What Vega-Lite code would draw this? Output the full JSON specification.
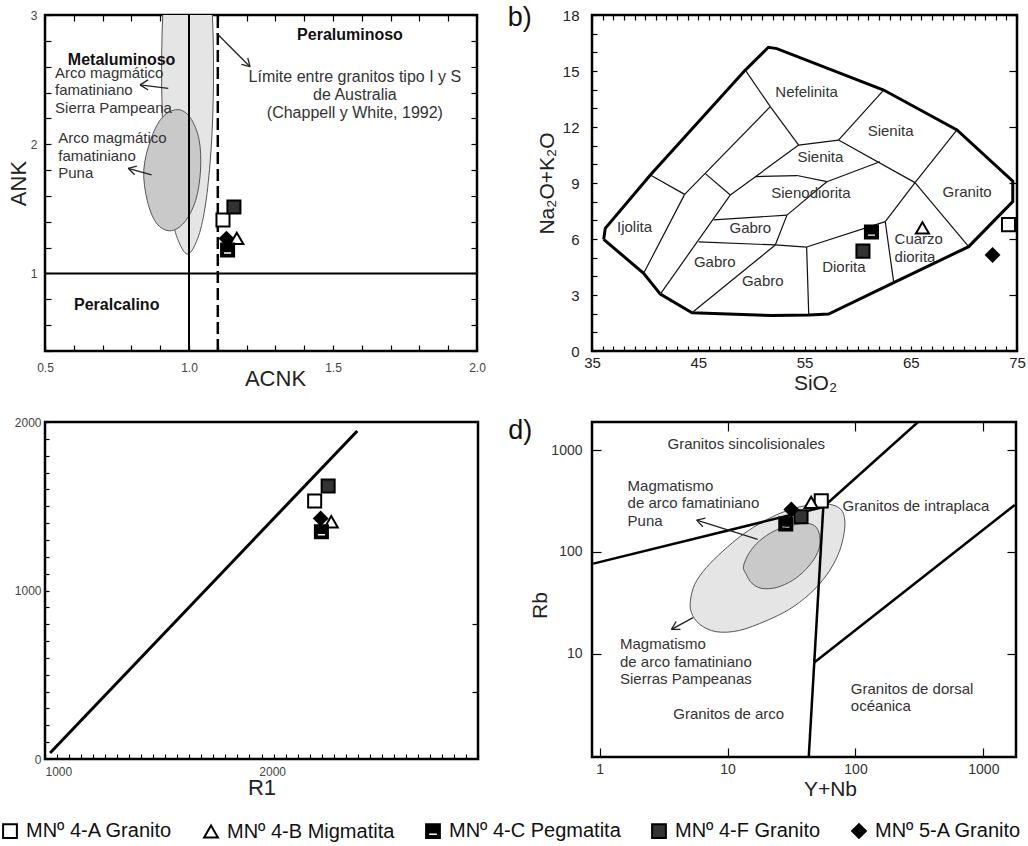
{
"$schema": "https://vega.github.io/schema/vega-lite/v6.json",
"padding": {"left": 0, "top": 2, "right": 5, "bottom": 5},
"datasets": {
"ellA1": [{"i":1,"x":0.995,"y":1.15},{"i":2,"x":1.030,"y":1.27},{"i":3,"x":1.055,"y":1.50},{"i":4,"x":1.073,"y":1.85},{"i":5,"x":1.083,"y":2.25},{"i":6,"x":1.085,"y":2.65},{"i":7,"x":1.080,"y":3.05},{"i":8,"x":1.066,"y":3.40},{"i":9,"x":0.995,"y":3.95},{"i":10,"x":0.924,"y":3.40},{"i":11,"x":0.910,"y":3.05},{"i":12,"x":0.905,"y":2.65},{"i":13,"x":0.907,"y":2.25},{"i":14,"x":0.917,"y":1.85},{"i":15,"x":0.935,"y":1.50},{"i":16,"x":0.960,"y":1.27}],
"ellA2": [{"i":1,"x":0.933,"y":1.33},{"i":2,"x":0.983,"y":1.393},{"i":3,"x":1.023,"y":1.565},{"i":4,"x":1.040,"y":1.80},{"i":5,"x":1.035,"y":2.035},{"i":6,"x":1.004,"y":2.207},{"i":7,"x":0.960,"y":2.268},{"i":8,"x":0.907,"y":2.207},{"i":9,"x":0.867,"y":2.035},{"i":10,"x":0.843,"y":1.80},{"i":11,"x":0.855,"y":1.565},{"i":12,"x":0.886,"y":1.393}],
"segA": [{"x":1.0,"y":0.4,"x2":1.0,"y2":3.0},{"x":0.5,"y":1.0,"x2":2.0,"y2":1.0}],
"dashA": [{"x":1.1,"y":0.4,"x2":1.1,"y2":3.0}],
"arrA": [
{"x":0.928,"y":2.433,"x2":0.830,"y2":2.459},{"x":0.830,"y":2.459,"x2":0.858,"y2":2.498},{"x":0.830,"y":2.459,"x2":0.858,"y2":2.420},
{"x":0.870,"y":1.762,"x2":0.789,"y2":1.814},{"x":0.789,"y":1.814,"x2":0.811,"y2":1.764},{"x":0.789,"y":1.814,"x2":0.819,"y2":1.831},
{"x":1.096,"y":2.859,"x2":1.212,"y2":2.600},{"x":1.212,"y":2.600,"x2":1.204,"y2":2.667},{"x":1.212,"y":2.600,"x2":1.182,"y2":2.618}],
"txtAl": [{"t":"Arco magmático","x":0.535,"y":2.554},{"t":"famatiniano","x":0.535,"y":2.419},{"t":"Sierra Pampeana","x":0.535,"y":2.278},{"t":"Arco magmático","x":0.546,"y":2.051},{"t":"famatiniano","x":0.546,"y":1.912},{"t":"Puna","x":0.546,"y":1.775}],
"txtAc": [{"t":"Límite entre granitos tipo I y S","x":1.576,"y":2.523},{"t":"de Australia","x":1.576,"y":2.381},{"t":"(Chappell y White, 1992)","x":1.576,"y":2.24}],
"txtAb": [{"t":"Metaluminoso","x":0.766,"y":2.652},{"t":"Peraluminoso","x":1.559,"y":2.846},{"t":"Peralcalino","x":0.749,"y":0.756}],
"ptsA": [{"s":"MNº 4-A Granito","x":1.118,"y":1.414},{"s":"MNº 4-F Granito","x":1.156,"y":1.514},{"s":"MNº 4-B Migmatita","x":1.166,"y":1.272},{"s":"MNº 5-A Granito","x":1.13,"y":1.27},{"s":"MNº 4-C Pegmatita","x":1.134,"y":1.182}],
"outB": [{"i":1,"x":36.1,"y":5.98},{"i":2,"x":36.25,"y":6.57},{"i":3,"x":40.49,"y":9.43},{"i":4,"x":49.43,"y":15.05},{"i":5,"x":51.6,"y":16.27},{"i":6,"x":52.4,"y":16.2},{"i":7,"x":62.45,"y":13.98},{"i":8,"x":69.35,"y":11.84},{"i":9,"x":74.6,"y":9.1},{"i":10,"x":74.6,"y":8.0},{"i":11,"x":70.45,"y":5.59},{"i":12,"x":63.4,"y":3.66},{"i":13,"x":57.27,"y":1.98},{"i":14,"x":55.4,"y":1.93},{"i":15,"x":52.0,"y":1.9},{"i":16,"x":44.41,"y":2.05},{"i":17,"x":41.43,"y":3.05},{"i":18,"x":39.86,"y":4.16},{"i":19,"x":36.1,"y":5.98}],
"segB": [
{"x":40.49,"y":9.43,"x2":43.72,"y2":8.39},{"x":43.72,"y":8.39,"x2":39.86,"y2":4.16},{"x":43.72,"y":8.39,"x2":51.78,"y2":13.09},{"x":49.43,"y":15.05,"x2":51.78,"y2":13.09},{"x":51.78,"y":13.09,"x2":54.45,"y2":11.03},
{"x":45.67,"y":9.5,"x2":48.02,"y2":8.36},{"x":48.02,"y":8.36,"x2":41.43,"y2":3.05},{"x":48.02,"y":8.36,"x2":54.45,"y2":11.03},{"x":54.45,"y":11.03,"x2":58.2,"y2":11.3},{"x":58.2,"y":11.3,"x2":62.45,"y2":13.98},
{"x":58.2,"y":11.3,"x2":65.4,"y2":9.02},{"x":65.4,"y":9.02,"x2":69.35,"y2":11.84},{"x":65.4,"y":9.02,"x2":70.45,"y2":5.59},{"x":65.4,"y":9.02,"x2":62.6,"y2":6.93},{"x":62.6,"y":6.93,"x2":63.4,"y2":3.66},
{"x":62.6,"y":6.93,"x2":55.2,"y2":5.57},{"x":55.2,"y":5.57,"x2":55.4,"y2":1.93},{"x":45.04,"y":5.85,"x2":52.25,"y2":5.68},{"x":52.25,"y":5.68,"x2":55.2,"y2":5.57},{"x":46.45,"y":7.02,"x2":53.35,"y2":7.28},
{"x":53.35,"y":7.28,"x2":52.25,"y2":5.68},{"x":52.25,"y":5.68,"x2":44.41,"y2":2.05},{"x":53.35,"y":7.28,"x2":57.1,"y2":9.07},{"x":50.37,"y":9.34,"x2":54.3,"y2":9.4},{"x":54.3,"y":9.4,"x2":57.1,"y2":9.07},{"x":57.1,"y":9.07,"x2":62.1,"y2":10.14}],
"txtB": [{"t":"Nefelinita","x":55.2,"y":13.89},{"t":"Sienita","x":63.1,"y":11.8},{"t":"Sienita","x":56.5,"y":10.41},{"t":"Sienodiorita","x":55.6,"y":8.45},{"t":"Granito","x":70.3,"y":8.5},{"t":"Ijolita","x":39.0,"y":6.62},{"t":"Gabro","x":49.9,"y":6.57},{"t":"Gabro","x":46.55,"y":4.75},{"t":"Gabro","x":51.07,"y":3.77},{"t":"Diorita","x":58.7,"y":4.48},{"t":"Cuarzo","x":65.75,"y":5.98},{"t":"diorita","x":65.4,"y":5.05}],
"labB": [{"t":"b)","x":28.2,"y":17.84}],
"ptsB": [{"s":"MNº 4-A Granito","x":74.2,"y":6.77},{"s":"MNº 4-B Migmatita","x":66.1,"y":6.6},{"s":"MNº 4-F Granito","x":60.5,"y":5.35},{"s":"MNº 4-C Pegmatita","x":61.3,"y":6.37},{"s":"MNº 5-A Granito","x":72.7,"y":5.14}],
"segC": [{"x":1021,"y":36,"x2":2298,"y2":1947}],
"ptsC": [{"s":"MNº 4-A Granito","x":2121,"y":1531},{"s":"MNº 4-F Granito","x":2177,"y":1620},{"s":"MNº 4-B Migmatita","x":2190,"y":1408},{"s":"MNº 5-A Granito","x":2146,"y":1428},{"s":"MNº 4-C Pegmatita","x":2149,"y":1349}],
"ellD1": [{"i":1,"x":5.12,"y":33.0},{"i":2,"x":5.53,"y":48.0},{"i":3,"x":6.82,"y":70.2},{"i":4,"x":9.19,"y":102},{"i":5,"x":13.2,"y":149},{"i":6,"x":19.4,"y":202},{"i":7,"x":28.6,"y":253},{"i":8,"x":43.5,"y":290},{"i":9,"x":62.4,"y":294},{"i":10,"x":76.9,"y":262},{"i":11,"x":82.6,"y":202},{"i":12,"x":80.2,"y":138},{"i":13,"x":72.4,"y":91.4},{"i":14,"x":58.8,"y":58.1},{"i":15,"x":43.5,"y":38.3},{"i":16,"x":30.4,"y":27.3},{"i":17,"x":20.0,"y":21.0},{"i":18,"x":12.4,"y":16.9},{"i":19,"x":8.17,"y":16.4},{"i":20,"x":6.05,"y":19.4},{"i":21,"x":5.21,"y":25.3}],
"ellD2": [{"i":1,"x":13.3,"y":72},{"i":2,"x":14.8,"y":98.4},{"i":3,"x":17.7,"y":128},{"i":4,"x":23.2,"y":161},{"i":5,"x":32.3,"y":184},{"i":6,"x":43.5,"y":190},{"i":7,"x":50.6,"y":167},{"i":8,"x":52.8,"y":123},{"i":9,"x":49.1,"y":91.4},{"i":10,"x":41.0,"y":67.5},{"i":11,"x":32.3,"y":52.6},{"i":12,"x":24.0,"y":44.6},{"i":13,"x":18.3,"y":43.9},{"i":14,"x":15.3,"y":49.9},{"i":15,"x":14.0,"y":60.3}],
"segD": [{"x":0.89,"y":76.7,"x2":56,"y2":277},{"x":56,"y":277,"x2":310,"y2":1910},{"x":56,"y":277,"x2":47.6,"y2":8.15},{"x":47.6,"y":8.15,"x2":43.1,"y2":0.96},{"x":47.6,"y":8.15,"x2":1760,"y2":290}],
"arrD": [{"x":17.2,"y":133,"x2":5.73,"y2":205.6},{"x":5.73,"y":205.6,"x2":6.40,"y2":177},{"x":5.73,"y":205.6,"x2":6.71,"y2":215},{"x":5.37,"y":22.6,"x2":3.64,"y2":17.3},{"x":3.64,"y":17.3,"x2":4.28,"y2":17.3},{"x":3.64,"y":17.3,"x2":3.96,"y2":20.7}],
"txtDc": [{"t":"Granitos sincolisionales","x":14.0,"y":1143},{"t":"Granitos de arco","x":10.2,"y":2.57}],
"txtDl": [{"t":"Magmatismo","x":1.65,"y":446},{"t":"de arco famatiniano","x":1.65,"y":301},{"t":"Puna","x":1.65,"y":202},{"t":"Granitos de intraplaca","x":79.3,"y":283},{"t":"Magmatismo","x":1.44,"y":12.4},{"t":"de arco famatiniano","x":1.44,"y":8.34},{"t":"Sierras Pampeanas","x":1.44,"y":5.58},{"t":"Granitos de dorsal","x":92,"y":4.53},{"t":"océanica","x":92,"y":3.06}],
"labD": [{"t":"d)","x":0.239,"y":1560}],
"ptsD": [{"s":"MNº 4-A Granito","x":54,"y":318},{"s":"MNº 4-B Migmatita","x":45,"y":308},{"s":"MNº 4-F Granito","x":37.5,"y":222},{"s":"MNº 5-A Granito","x":31.5,"y":262},{"s":"MNº 4-C Pegmatita","x":28.5,"y":188}]
},
"concat": [
{
"width": 432, "height": 336,
"layer": [
{
"encoding": {
"x": {"field":"x","type":"quantitative","scale":{"domain":[0.5,2.0],"nice":false,"zero":false},
"axis":{"title":"ACNK","values":[0.5,0.6,0.7,0.8,0.9,1.0,1.1,1.2,1.3,1.4,1.5,1.6,1.7,1.8,1.9,2.0],"labelExpr":"abs(datum.value*2-round(datum.value*2))<0.001 ? format(datum.value,'.1f') : ''","tickSize":-6,"labelPadding":17,"labelFontSize":12,"labelColor":"#444","titleFontSize":22,"titlePadding":-5,"titleX":230}},
"y": {"field":"y","type":"quantitative","scale":{"domain":[0.4,3.0],"nice":false,"zero":false},
"axis":{"title":"ANK","values":[0.4,0.6,0.8,1.0,1.2,1.4,1.6,1.8,2.0,2.2,2.4,2.6,2.8,3.0],"labelExpr":"abs(datum.value-round(datum.value))<0.001 ? format(datum.value,'d') : ''","tickSize":-6,"labelPadding":14,"labelFontSize":12,"labelColor":"#444","titleFontSize":22,"titlePadding":0}}
},
"layer": [
{"data":{"name":"ellA1"},"mark":{"type":"line","interpolate":"cardinal-closed","fill":"#e5e5e5","stroke":"#555","strokeWidth":1,"clip":true},"encoding":{"order":{"field":"i","type":"quantitative"}}},
{"data":{"name":"ellA2"},"mark":{"type":"line","interpolate":"cardinal-closed","fill":"#c9c9c9","stroke":"#555","strokeWidth":1},"encoding":{"order":{"field":"i","type":"quantitative"}}},
{"data":{"name":"segA"},"mark":{"type":"rule","color":"black","strokeWidth":2},"encoding":{"x2":{"field":"x2"},"y2":{"field":"y2"}}},
{"data":{"name":"dashA"},"mark":{"type":"rule","color":"black","strokeWidth":2.5,"strokeDash":[12,5]},"encoding":{"x2":{"field":"x2"},"y2":{"field":"y2"}}},
{"data":{"name":"arrA"},"mark":{"type":"rule","color":"#222","strokeWidth":1.3},"encoding":{"x2":{"field":"x2"},"y2":{"field":"y2"}}},
{"data":{"name":"txtAl"},"mark":{"type":"text","align":"left","fontSize":15,"color":"#333"},"encoding":{"text":{"field":"t","type":"nominal"}}},
{"data":{"name":"txtAc"},"mark":{"type":"text","align":"center","fontSize":16,"color":"#333"},"encoding":{"text":{"field":"t","type":"nominal"}}},
{"data":{"name":"txtAb"},"mark":{"type":"text","align":"center","fontSize":16,"fontWeight":"bold","color":"#111"},"encoding":{"text":{"field":"t","type":"nominal"}}}
]
},
{
"data":{"name":"ptsA"},
"mark":{"type":"point","filled":true,"stroke":"black","strokeWidth":2,"size":170,"opacity":1},
"encoding":{
"x":{"field":"x","type":"quantitative","axis":{"orient":"top","values":[0.5,0.6,0.7,0.8,0.9,1.0,1.1,1.2,1.3,1.4,1.5,1.6,1.7,1.8,1.9,2.0],"labels":false,"title":null,"tickSize":-6}},
"y":{"field":"y","type":"quantitative","axis":{"orient":"right","values":[0.4,0.6,0.8,1.0,1.2,1.4,1.6,1.8,2.0,2.2,2.4,2.6,2.8,3.0],"labels":false,"title":null,"tickSize":-6}},
"shape":{"field":"s","type":"nominal","scale":{"domain":["MNº 4-A Granito","MNº 4-B Migmatita","MNº 4-C Pegmatita","MNº 4-F Granito","MNº 5-A Granito"],"range":["square","triangle-up","M-1,-1H1V1H-1Z M-0.7,0.2V0.72H0.7V0.2Z","square","diamond"]},
"legend":{"orient":"none","legendX":-45,"legendY":806,"direction":"horizontal","columns":5,"title":null,"labelFontSize":20,"labelColor":"#111","symbolSize":190,"symbolStrokeColor":"black","symbolStrokeWidth":2,"symbolOpacity":1,"columnPadding":27,"labelOffset":6,"labelLimit":400,"encode":{"symbols":{"update":{"stroke":{"value":"black"},"strokeWidth":{"value":2}}}}}},
"fill":{"field":"s","type":"nominal","scale":{"domain":["MNº 4-A Granito","MNº 4-B Migmatita","MNº 4-C Pegmatita","MNº 4-F Granito","MNº 5-A Granito"],"range":["white","white","black","#333333","black"]},
"legend":{"orient":"none","legendX":-45,"legendY":806,"direction":"horizontal","columns":5,"title":null,"labelFontSize":20,"labelColor":"#111","symbolSize":190,"symbolStrokeColor":"black","symbolStrokeWidth":2,"symbolOpacity":1,"columnPadding":27,"labelOffset":6,"labelLimit":400,"encode":{"symbols":{"update":{"stroke":{"value":"black"},"strokeWidth":{"value":2}}}}}}
}
}
],
"resolve": {"axis": {"x":"independent","y":"independent"}}
},
{
"width": 425, "height": 336,
"layer": [
{
"encoding": {
"x": {"field":"x","type":"quantitative","scale":{"domain":[35,75],"nice":false,"zero":false},
"axis":{"title":"SiO₂","values":[35,36,37,38,39,40,41,42,43,44,45,46,47,48,49,50,51,52,53,54,55,56,57,58,59,60,61,62,63,64,65,66,67,68,69,70,71,72,73,74,75],"labelExpr":"datum.value % 10 == 5 ? datum.label : ''","tickSize":-5,"labelPadding":9,"labelFontSize":15,"labelColor":"#222","titleFontSize":21,"titlePadding":2,"titleX":223}},
"y": {"field":"y","type":"quantitative","scale":{"domain":[0,18],"nice":false,"zero":false},
"axis":{"title":"Na₂O+K₂O","values":[0,1,2,3,4,5,6,7,8,9,10,11,12,13,14,15,16,17,18],"labelExpr":"datum.value % 3 == 0 ? datum.label : ''","tickSize":-5,"labelPadding":18,"labelFontSize":15,"labelColor":"#222","titleFontSize":21,"titlePadding":5}}
},
"layer": [
{"data":{"name":"outB"},"mark":{"type":"line","color":"black","strokeWidth":3},"encoding":{"order":{"field":"i","type":"quantitative"}}},
{"data":{"name":"segB"},"mark":{"type":"rule","color":"#111","strokeWidth":1.2},"encoding":{"x2":{"field":"x2"},"y2":{"field":"y2"}}},
{"data":{"name":"txtB"},"mark":{"type":"text","align":"center","fontSize":15,"color":"#333"},"encoding":{"text":{"field":"t","type":"nominal"}}},
{"data":{"name":"labB"},"mark":{"type":"text","align":"center","fontSize":27,"color":"#111"},"encoding":{"text":{"field":"t","type":"nominal"}}}
]
},
{
"data":{"name":"ptsB"},
"mark":{"type":"point","filled":true,"stroke":"black","strokeWidth":2,"size":170,"opacity":1},
"encoding":{
"x":{"field":"x","type":"quantitative","axis":{"orient":"top","values":[35,36,37,38,39,40,41,42,43,44,45,46,47,48,49,50,51,52,53,54,55,56,57,58,59,60,61,62,63,64,65,66,67,68,69,70,71,72,73,74,75],"labels":false,"title":null,"tickSize":-5}},
"y":{"field":"y","type":"quantitative","axis":{"orient":"right","values":[0,3,6,9,12,15,18],"labels":false,"title":null,"tickSize":-8}},
"shape":{"field":"s","type":"nominal"},
"fill":{"field":"s","type":"nominal"}
}
}
],
"resolve": {"axis": {"x":"independent","y":"independent"}}
},
{
"width": 433, "height": 337,
"layer": [
{
"encoding": {
"x": {"field":"x","type":"quantitative","scale":{"domain":[1000,2800],"nice":false,"zero":false},
"axis":{"title":"R1","values":[1000,1050,1100,1150,1200,1250,1300,1350,1400,1450,1500,1550,1600,1650,1700,1750,1800,1850,1900,1950,2000,2050,2100,2150,2200,2250,2300,2350,2400,2450,2500,2550,2600,2650,2700,2750,2800],"labelExpr":"datum.value == 1000 || datum.value == 2000 ? format(datum.value,'d') : ''","labelAlign":{"condition":{"test":"datum.value == 1000","value":"left"},"value":"right"},"tickSize":-5,"labelPadding":12,"labelFontSize":12,"labelColor":"#444","titleFontSize":22,"titlePadding":0}},
"y": {"field":"y","type":"quantitative","scale":{"domain":[0,2000],"nice":false,"zero":false},
"axis":{"title":null,"values":[0,100,200,300,400,500,600,700,800,900,1000,1100,1200,1300,1400,1500,1600,1700,1800,1900,2000],"labelExpr":"datum.value % 1000 == 0 ? format(datum.value,'d') : ''","tickSize":-4,"labelPadding":8,"labelFontSize":12,"labelColor":"#444"}}
},
"layer": [
{"data":{"name":"segC"},"mark":{"type":"rule","color":"black","strokeWidth":3},"encoding":{"x2":{"field":"x2"},"y2":{"field":"y2"}}}
]
},
{
"data":{"name":"ptsC"},
"mark":{"type":"point","filled":true,"stroke":"black","strokeWidth":2,"size":170,"opacity":1},
"encoding":{
"x":{"field":"x","type":"quantitative","axis":null},
"y":{"field":"y","type":"quantitative","axis":{"orient":"right","values":[400,800],"labels":false,"title":null,"tickSize":-6}},
"shape":{"field":"s","type":"nominal"},
"fill":{"field":"s","type":"nominal"}
}
}
],
"resolve": {"axis": {"x":"independent","y":"independent"}}
},
{
"width": 424, "height": 335,
"layer": [
{
"encoding": {
"x": {"field":"x","type":"quantitative","scale":{"type":"log","domain":[0.87,1800],"nice":false},
"axis":{"title":"Y+Nb","values":[1,10,100,1000],"format":"d","tickSize":-9,"labelPadding":14,"labelFontSize":14,"labelColor":"#333","titleFontSize":21,"titlePadding":2,"titleX":238}},
"y": {"field":"y","type":"quantitative","scale":{"type":"log","domain":[0.96,1900],"nice":false},
"axis":{"title":"Rb","values":[10,100,1000],"format":"d","tickSize":-9,"labelPadding":19,"labelFontSize":14,"labelColor":"#333","titleFontSize":21,"titlePadding":0,"titleY":183}}
},
"layer": [
{"data":{"name":"ellD1"},"mark":{"type":"line","interpolate":"cardinal-closed","fill":"#e5e5e5","stroke":"#555","strokeWidth":1},"encoding":{"order":{"field":"i","type":"quantitative"}}},
{"data":{"name":"ellD2"},"mark":{"type":"line","interpolate":"cardinal-closed","fill":"#c9c9c9","stroke":"#555","strokeWidth":1},"encoding":{"order":{"field":"i","type":"quantitative"}}},
{"data":{"name":"segD"},"mark":{"type":"rule","color":"black","strokeWidth":2.5,"clip":true},"encoding":{"x2":{"field":"x2"},"y2":{"field":"y2"}}},
{"data":{"name":"arrD"},"mark":{"type":"rule","color":"#222","strokeWidth":1.3},"encoding":{"x2":{"field":"x2"},"y2":{"field":"y2"}}},
{"data":{"name":"txtDc"},"mark":{"type":"text","align":"center","fontSize":15,"color":"#333"},"encoding":{"text":{"field":"t","type":"nominal"}}},
{"data":{"name":"txtDl"},"mark":{"type":"text","align":"left","fontSize":15,"color":"#333"},"encoding":{"text":{"field":"t","type":"nominal"}}},
{"data":{"name":"labD"},"mark":{"type":"text","align":"center","fontSize":27,"color":"#111"},"encoding":{"text":{"field":"t","type":"nominal"}}}
]
},
{
"data":{"name":"ptsD"},
"mark":{"type":"point","filled":true,"stroke":"black","strokeWidth":2,"size":170,"opacity":1},
"encoding":{
"x":{"field":"x","type":"quantitative","axis":{"orient":"top","values":[10,100,1000],"labels":false,"title":null,"tickSize":-9}},
"y":{"field":"y","type":"quantitative","axis":{"orient":"right","values":[10,100,1000],"labels":false,"title":null,"tickSize":-9}},
"shape":{"field":"s","type":"nominal"},
"fill":{"field":"s","type":"nominal"}
}
}
],
"resolve": {"axis": {"x":"independent","y":"independent"}}
}
],
"columns": 2,
"spacing": {"row": 71, "column": 114},
"bounds": "flush",
"config": {
"font": "Liberation Sans",
"view": {"stroke": "black", "strokeWidth": 2.5},
"axis": {"grid": false, "domain": false, "tickColor": "black", "tickWidth": 1.2, "labelOverlap": false, "labelFlush": false, "titleColor": "#222", "titleFontWeight": "normal", "labelFont": "Liberation Sans", "titleFont": "Liberation Sans"}
}
}
